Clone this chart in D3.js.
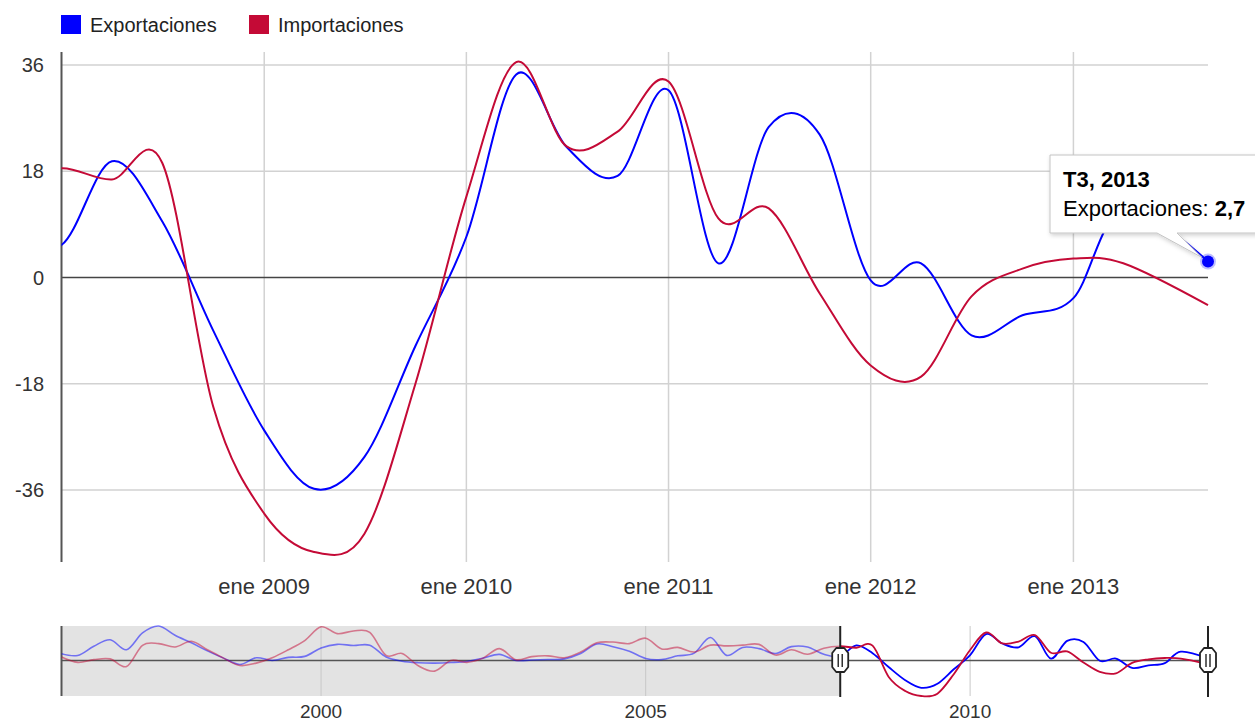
<!DOCTYPE html>
<html lang="es">
<head>
<meta charset="utf-8">
<script src="https://d3js.org/d3.v7.min.js"></script>
<style>
body { margin: 0; background: #fff; }
svg { font-family: "Liberation Sans", Arial, sans-serif; }
</style>
</head>
<body>
<div id="chart"></div>
<script>
// series names and colours
var seriesNames = ["Exportaciones", "Importaciones"];
var colors = ["#0000ff", "#c40a36"];

// quarterly values, T1 1996 .. T3 2013
var exportaciones = [
  8.8, 6.5, 18.5, 27,
  14, 36, 45, 33,
  23, 12.5, 3, -5.3,
  3.5, 0, 4, 5.3,
  16.3, 21, 19.5, 19.8,
  4.4, -1, -3, -3.5,
  -2.8, -1.3, 3, 7.9,
  0, 0.5, 1.2, 2,
  9, 21.5, 18, 12,
  2.5, 1.2, 6, 9.5,
  30, 6.6, 17, 15.4,
  9, 18, 17.5, 8,
  5.5, 19.7, 9.5, -9,
  -25.9, -35.8, -30.4, -11.6,
  6.9, 34.4, 22.1, 17.2,
  31.7, 2.4, 25.5, 24.2,
  -0.5, 2.4, -9.8, -6.4,
  -3.5, 11.5, 2.7
];
var importaciones = [
  4.4, -2.6, 1, 2,
  -8, 19.8, 22, 17.6,
  25, 14, 3, -6.6,
  -3.5, 3.5, 14, 26,
  44, 35, 38.5, 36.6,
  6.6, 9, -7, -14,
  0, -2.5, 3, 15.4,
  1, 5, 6, 3.5,
  11, 23, 24, 22,
  29, 15, 17, 11,
  20, 19, 20, 21,
  7, 14, 8, 16,
  18.5, 16.6, 19.4, -21.9,
  -40, -46.5, -43.4, -18,
  13.7, 36.5, 22.2, 24.7,
  33.2, 10, 11.7, -2.7,
  -14.9, -16.8, -3.2, 1.5,
  3.2, 2.4, -4.7
];
var firstYear = 1996;

var yTicks = [-36, -18, 0, 18, 36];
var mainYears = [2009, 2010, 2011, 2012, 2013];
var rangeYears = [2000, 2005, 2010];
var tooltipTitle = "T3, 2013";
var tooltipValue = "2,7";

// quarter dates (start of quarter); the last quarter comes dated 1 Sep
var dates = exportaciones.map(function (d, i) {
  if (i === exportaciones.length - 1) return new Date(2013, 8, 1);
  return new Date(firstYear + Math.floor(i / 4), (i % 4) * 3, 1);
});
var allSeries = [exportaciones, importaciones];

let width = 1255;
let height = 722;
let plotLeft = 61.5, plotRight = 1208;

let svg = d3.select("#chart")
    .append("svg")
    .attr("width", width)
    .attr("height", height);

let defs = svg.append("defs");
let shadow = defs.append("filter").attr("id", "shadow")
    .attr("x", "-10%").attr("y", "-10%").attr("width", "130%").attr("height", "140%");
shadow.append("feDropShadow").attr("dx", 1).attr("dy", 2).attr("stdDeviation", 2)
    .attr("flood-color", "#000").attr("flood-opacity", 0.18);

// ---------- legend ----------
let legend = svg.append("g");
let legendX = [61, 249];
seriesNames.forEach(function (name, i) {
  legend.append("rect").attr("x", legendX[i]).attr("y", 15)
      .attr("width", 20).attr("height", 19).attr("fill", colors[i]);
  legend.append("text").attr("x", legendX[i] + 29).attr("y", 32)
      .attr("font-size", 20).attr("fill", "#222").text(name);
});

// ---------- main chart ----------
let plotTop = 52, plotBottom = 562;
let x = d3.scaleTime()
    .domain([new Date(2008, 0, 1), new Date(2013, 8, 1)])
    .range([plotLeft, plotRight]);
let y = d3.scaleLinear().domain([-48.2, 38.2]).range([plotBottom, plotTop]);

defs.append("clipPath").attr("id", "mainClip")
  .append("rect").attr("x", plotLeft).attr("y", plotTop - 5)
  .attr("width", plotRight - plotLeft + 1).attr("height", plotBottom - plotTop + 10);

let grid = svg.append("g");
grid.selectAll("line.h").data(yTicks.filter(function (t) { return t !== 0; }))
  .enter().append("line")
    .attr("x1", plotLeft).attr("x2", plotRight)
    .attr("y1", function (d) { return y(d); }).attr("y2", function (d) { return y(d); })
    .attr("stroke", "#d2d2d2").attr("stroke-width", 1.5);
grid.selectAll("line.v").data(mainYears)
  .enter().append("line")
    .attr("x1", function (d) { return x(new Date(d, 0, 1)); })
    .attr("x2", function (d) { return x(new Date(d, 0, 1)); })
    .attr("y1", plotTop).attr("y2", plotBottom)
    .attr("stroke", "#d2d2d2").attr("stroke-width", 1.5);

svg.append("line").attr("x1", plotLeft).attr("x2", plotRight)
    .attr("y1", y(0)).attr("y2", y(0))
    .attr("stroke", "#444").attr("stroke-width", 1.6);
svg.append("line").attr("x1", plotLeft).attr("x2", plotLeft)
    .attr("y1", plotTop).attr("y2", plotBottom)
    .attr("stroke", "#555").attr("stroke-width", 2);

svg.append("g").selectAll("text").data(yTicks).enter().append("text")
    .attr("x", 44).attr("y", function (d) { return y(d); })
    .attr("dy", "0.36em").attr("text-anchor", "end")
    .attr("font-size", 20).attr("fill", "#333")
    .text(function (d) { return d; });

svg.append("g").selectAll("text").data(mainYears).enter().append("text")
    .attr("x", function (d) { return x(new Date(d, 0, 1)); })
    .attr("y", 594).attr("text-anchor", "middle")
    .attr("font-size", 22).attr("fill", "#333")
    .text(function (d) { return "ene " + d; });

let mainLine = d3.line()
    .x(function (d, i) { return x(dates[i]); })
    .y(function (d) { return y(d); })
    .curve(d3.curveCardinal.tension(0));

svg.append("g").attr("clip-path", "url(#mainClip)")
  .selectAll("path").data(allSeries).enter().append("path")
    .attr("d", mainLine)
    .attr("fill", "none")
    .attr("stroke", function (d, i) { return colors[i]; })
    .attr("stroke-width", 2);

// ---------- tooltip on last point ----------
let lastI = exportaciones.length - 1;
let px = x(dates[lastI]), py = y(exportaciones[lastI]);

let tip = svg.append("g");
tip.append("path")
    .attr("d", "M1050,155 H1262 V233 H1177 L" + (px - 6) + "," + (py - 4) + " L1157,233 H1050 Z")
    .attr("fill", "#fff").attr("stroke", "#c4c4c4").attr("stroke-width", 1)
    .attr("filter", "url(#shadow)");
tip.append("text").attr("x", 1063).attr("y", 187)
    .attr("font-size", 22).attr("font-weight", "bold").attr("fill", "#000")
    .text(tooltipTitle);
let t2 = tip.append("text").attr("x", 1063).attr("y", 216)
    .attr("font-size", 22).attr("fill", "#000");
t2.append("tspan").text(seriesNames[0] + ": ");
t2.append("tspan").attr("font-weight", "bold").text(tooltipValue);

svg.append("circle").attr("cx", px).attr("cy", py).attr("r", 8)
    .attr("fill", colors[0]).attr("opacity", 0.25);
svg.append("circle").attr("cx", px).attr("cy", py).attr("r", 6)
    .attr("fill", colors[0]);

// ---------- range filter ----------
let rTop = 626, rBottom = 696;
let selStart = new Date(2008, 0, 1);
let rx = d3.scaleTime()
    .domain([dates[0], dates[lastI]])
    .range([plotLeft, plotRight]);
let ry = d3.scaleLinear()
    .domain(d3.extent(exportaciones.concat(importaciones)))
    .range([rBottom, rTop]);

svg.append("rect").attr("x", plotLeft).attr("y", rTop)
    .attr("width", rx(selStart) - plotLeft).attr("height", rBottom - rTop)
    .attr("fill", "#e3e3e3");

svg.append("g").selectAll("line").data(rangeYears).enter().append("line")
    .attr("x1", function (d) { return rx(new Date(d, 0, 1)); })
    .attr("x2", function (d) { return rx(new Date(d, 0, 1)); })
    .attr("y1", rTop).attr("y2", rBottom)
    .attr("stroke", "#c8c8c8").attr("stroke-width", 1);

svg.append("line").attr("x1", plotLeft).attr("x2", plotRight)
    .attr("y1", ry(0)).attr("y2", ry(0))
    .attr("stroke", "#555").attr("stroke-width", 1.5);
svg.append("line").attr("x1", plotLeft).attr("x2", plotLeft)
    .attr("y1", rTop).attr("y2", rBottom)
    .attr("stroke", "#555").attr("stroke-width", 2);

defs.append("clipPath").attr("id", "clipOut")
  .append("rect").attr("x", plotLeft).attr("y", rTop - 10)
  .attr("width", rx(selStart) - plotLeft).attr("height", rBottom - rTop + 20);
defs.append("clipPath").attr("id", "clipIn")
  .append("rect").attr("x", rx(selStart)).attr("y", rTop - 10)
  .attr("width", plotRight - rx(selStart) + 2).attr("height", rBottom - rTop + 20);

let rangeLine = d3.line()
    .x(function (d, i) { return rx(dates[i]); })
    .y(function (d) { return ry(d); })
    .curve(d3.curveCardinal.tension(0));

svg.append("g").attr("clip-path", "url(#clipOut)")
  .selectAll("path").data(allSeries).enter().append("path")
    .attr("d", rangeLine).attr("fill", "none")
    .attr("stroke", function (d, i) { return colors[i]; })
    .attr("stroke-opacity", 0.5)
    .attr("stroke-width", 1.6);
svg.append("g").attr("clip-path", "url(#clipIn)")
  .selectAll("path").data(allSeries).enter().append("path")
    .attr("d", rangeLine).attr("fill", "none")
    .attr("stroke", function (d, i) { return colors[i]; })
    .attr("stroke-width", 1.8);

svg.append("g").selectAll("text").data(rangeYears).enter().append("text")
    .attr("x", function (d) { return rx(new Date(d, 0, 1)); })
    .attr("y", 718).attr("text-anchor", "middle")
    .attr("font-size", 19).attr("fill", "#333")
    .text(function (d) { return d; });

// handles
[rx(selStart), plotRight].forEach(function (hx) {
  let h = svg.append("g");
  h.append("line").attr("x1", hx).attr("x2", hx).attr("y1", rTop).attr("y2", rBottom + 1)
      .attr("stroke", "#222").attr("stroke-width", 2);
  h.append("path")
      .attr("d", "M" + (hx - 4) + ",648 H" + (hx + 4) + " L" + (hx + 8) + ",653 V667 L" +
            (hx + 4) + ",672 H" + (hx - 4) + " L" + (hx - 8) + ",667 V653 Z")
      .attr("fill", "#fff").attr("stroke", "#222").attr("stroke-width", 1.8)
      .attr("stroke-linejoin", "round");
  [-2, 2].forEach(function (o) {
    h.append("line").attr("x1", hx + o).attr("x2", hx + o).attr("y1", 654).attr("y2", 667)
        .attr("stroke", "#222").attr("stroke-width", 1.4);
  });
});
</script>
</body>
</html>
